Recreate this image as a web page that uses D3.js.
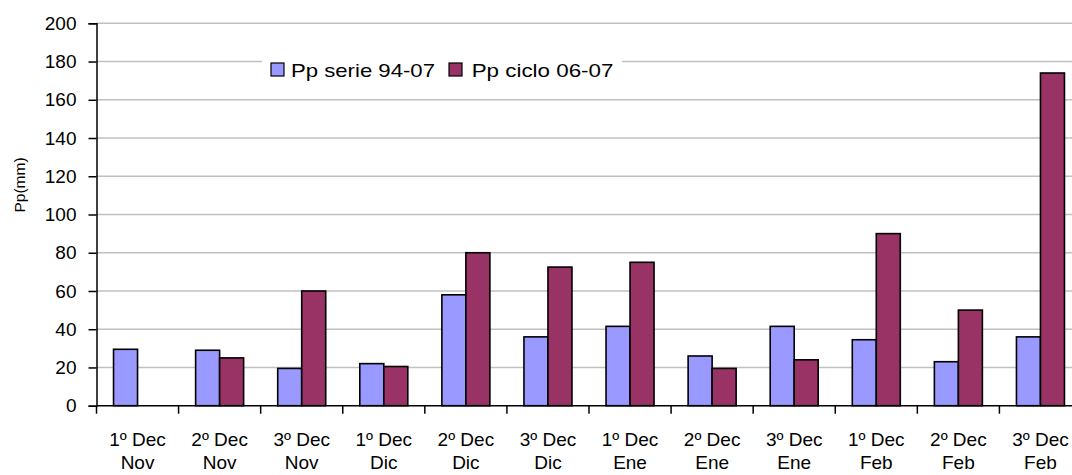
<!DOCTYPE html>
<html>
<head>
<meta charset="utf-8">
<script src="https://cdn.jsdelivr.net/npm/d3@7"></script>
<style>
  html, body { margin: 0; padding: 0; background: #fff; overflow: hidden; }
  svg { display: block; }
  text { font-family: "Liberation Sans", Arial, sans-serif; fill: #000; }
</style>
</head>
<body>
<svg id="chart" width="1072" height="475"></svg>
<script>
const decades = ["1º Dec", "2º Dec", "3º Dec", "1º Dec", "2º Dec", "3º Dec", "1º Dec", "2º Dec", "3º Dec", "1º Dec", "2º Dec", "3º Dec"];
const months  = ["Nov", "Nov", "Nov", "Dic", "Dic", "Dic", "Ene", "Ene", "Ene", "Feb", "Feb", "Feb"];
const seriesNames = ["Pp serie 94-07", "Pp ciclo 06-07"];
const serie9407 = [29.5, 29, 19.5, 22, 58, 36, 41.5, 26, 41.5, 34.5, 23, 36];
const ciclo0607 = [null, 25, 60, 20.5, 80, 72.5, 75, 19.5, 24, 90, 50, 174];
const yTicks = [0, 20, 40, 60, 80, 100, 120, 140, 160, 180, 200];
const yTitle = "Pp(mm)";
const colors = ["#9999FF", "#993366"];

const svg = d3.select("#chart");
const mLeft = 96.5, mRight = 1081.5, mTop = 23.3, mBottom = 405.7;

const cats = d3.range(decades.length);
const x = d3.scaleBand().domain(cats).range([mLeft, mRight]).padding(0);
const xSub = d3.scaleBand().domain([0, 1]).range([0, x.bandwidth()]).paddingInner(0).paddingOuter(0.71);
const y = d3.scaleLinear().domain([0, 200]).range([mBottom, mTop]);

// gridlines
svg.append("g").selectAll("line").data(yTicks.filter(t => t > 0)).join("line")
  .attr("x1", mLeft).attr("x2", 1072)
  .attr("y1", d => y(d)).attr("y2", d => y(d))
  .attr("stroke", "#c0c0c0").attr("stroke-width", 1.5);

// legend background (covers gridline)
const legend = svg.append("g");
legend.append("rect").attr("x", 262).attr("y", 52).attr("width", 360).attr("height", 34).attr("fill", "#fff");

// bars
const rows = [];
cats.forEach(i => {
  [serie9407[i], ciclo0607[i]].forEach((v, s) => {
    if (v !== null) rows.push({ i, s, v });
  });
});
svg.append("g").selectAll("rect").data(rows).join("rect")
  .attr("x", d => x(d.i) + xSub(d.s))
  .attr("width", xSub.bandwidth())
  .attr("y", d => y(d.v))
  .attr("height", d => y(0) - y(d.v))
  .attr("fill", d => colors[d.s])
  .attr("stroke", "#000").attr("stroke-width", 1.6);

// y axis
const yAxis = d3.axisLeft(y).tickValues(yTicks).tickSize(8).tickPadding(12).tickFormat(d3.format("d"));
const gy = svg.append("g").attr("transform", `translate(${mLeft},0)`).call(yAxis);
gy.select(".domain").attr("stroke", "#000").attr("stroke-width", 1.5);
gy.selectAll(".tick line").attr("stroke", "#000").attr("stroke-width", 1.5);
gy.selectAll(".tick text").style("font-size", "19px").style("font-family", "Liberation Sans, Arial, sans-serif");

// x axis baseline and ticks at category boundaries
svg.append("line").attr("x1", mLeft).attr("x2", 1072).attr("y1", y(0)).attr("y2", y(0))
  .attr("stroke", "#000").attr("stroke-width", 1.5);
svg.append("g").selectAll("line").data(cats).join("line")
  .attr("x1", d => x(d)).attr("x2", d => x(d))
  .attr("y1", y(0)).attr("y2", y(0) + 8)
  .attr("stroke", "#000").attr("stroke-width", 1.5);

// x labels
const xl = svg.append("g").selectAll("text").data(cats).join("text")
  .attr("text-anchor", "middle")
  .style("font-size", "19px");
xl.append("tspan").attr("x", d => x(d) + x.bandwidth() / 2).attr("y", 446).text(d => decades[d]);
xl.append("tspan").attr("x", d => x(d) + x.bandwidth() / 2).attr("y", 469).text(d => months[d]);

// y title
svg.append("text")
  .attr("transform", `translate(25,185) rotate(-90)`)
  .attr("text-anchor", "middle")
  .style("font-size", "15.5px")
  .text(yTitle);

// legend items
const legX = [271, 449], legTextX = [291, 471.7], legW = [144, 141.7];
seriesNames.forEach((name, s) => {
  legend.append("rect").attr("x", legX[s]).attr("y", 63).attr("width", 13).attr("height", 13)
    .attr("fill", colors[s]).attr("stroke", "#000").attr("stroke-width", 1.2);
  legend.append("text").attr("x", legTextX[s]).attr("y", 76.5)
    .style("font-size", "19px")
    .attr("textLength", legW[s]).attr("lengthAdjust", "spacingAndGlyphs")
    .text(name);
});
</script>
</body>
</html>
